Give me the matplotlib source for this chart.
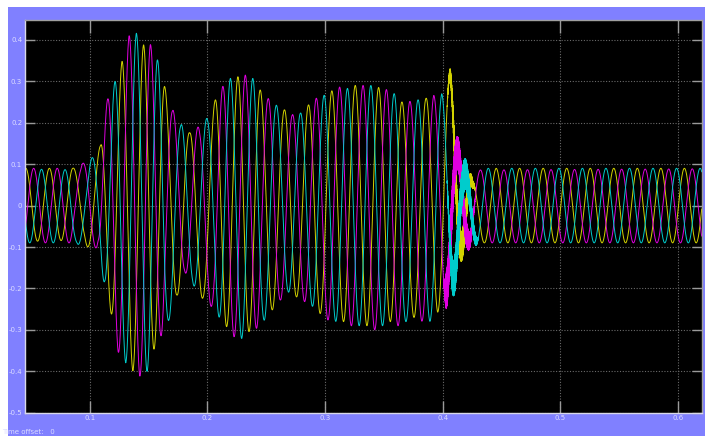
import numpy as np
import matplotlib
matplotlib.use("Agg")
import matplotlib.pyplot as plt
from matplotlib.patches import Rectangle

# ---- data ----
# times of yellow-phase peaks (defines the running phase of all three signals)
yellow_peak_t = [0.0257, 0.0457, 0.0657, 0.0857, 0.1091, 0.1274, 0.1458, 0.1637,
                 0.1849, 0.2067, 0.2259, 0.2449, 0.2655, 0.2859, 0.3057, 0.3256,
                 0.3455, 0.3653, 0.3858, 0.4062, 0.4254, 0.4453, 0.4653, 0.4853,
                 0.5053, 0.5253, 0.5453, 0.5653, 0.5853, 0.6053, 0.6253, 0.6453]

# upper (peak) envelopes
yel_up_t = [0.00, 0.0857, 0.1091, 0.1274, 0.1458, 0.1637, 0.1849, 0.2067, 0.2259, 0.2449,
            0.2655, 0.2859, 0.3057, 0.3256, 0.3455, 0.3653, 0.3858, 0.4062, 0.4254, 0.4453, 0.70]
yel_up_v = [0.09, 0.09, 0.144, 0.348, 0.388, 0.287, 0.175, 0.255, 0.311, 0.279,
            0.231, 0.243, 0.277, 0.29, 0.285, 0.25, 0.259, 0.318, 0.05, 0.09, 0.09]
mag_up_t = [0.00, 0.0923, 0.1155, 0.1334, 0.1515, 0.1702, 0.1934, 0.2126, 0.2322, 0.2514,
            0.2720, 0.2924, 0.3122, 0.3326, 0.3521, 0.3725, 0.3923, 0.4113, 0.4311, 0.70]
mag_up_v = [0.09, 0.09, 0.259, 0.41, 0.39, 0.231, 0.187, 0.287, 0.315, 0.259,
            0.219, 0.259, 0.286, 0.29, 0.28, 0.251, 0.267, 0.13, 0.086, 0.09]
cya_up_t = [0.00, 0.0986, 0.1218, 0.1396, 0.1571, 0.1770, 0.2004, 0.2194, 0.2386, 0.2579,
            0.2789, 0.2995, 0.3193, 0.3394, 0.3589, 0.3787, 0.3991, 0.4166, 0.4381, 0.70]
cya_up_v = [0.09, 0.086, 0.303, 0.416, 0.356, 0.195, 0.211, 0.307, 0.307, 0.243,
            0.223, 0.267, 0.283, 0.29, 0.27, 0.255, 0.271, 0.075, 0.09, 0.09]

# lower (trough) envelopes
yel_lo_t = [0.00, 0.0958, 0.1184, 0.1367, 0.1543, 0.1741, 0.1962, 0.2160, 0.2351, 0.2550,
            0.2755, 0.2952, 0.3155, 0.3355, 0.3555, 0.3755, 0.3955, 0.4141, 0.4353, 0.70]
yel_lo_v = [-0.09, -0.083, -0.262, -0.399, -0.349, -0.216, -0.224, -0.292, -0.305, -0.252,
            -0.22, -0.26, -0.28, -0.29, -0.28, -0.27, -0.26, -0.10, -0.09, -0.09]
mag_lo_t = [0.00, 0.0824, 0.1070, 0.1240, 0.1424, 0.1609, 0.1806, 0.2033, 0.2224, 0.2420,
            0.2619, 0.2817, 0.3022, 0.3220, 0.3420, 0.3620, 0.3820, 0.4000, 0.4209, 0.4409, 0.70]
mag_lo_v = [-0.09, -0.09, -0.103, -0.353, -0.413, -0.313, -0.16, -0.244, -0.317, -0.296,
            -0.228, -0.23, -0.276, -0.29, -0.30, -0.29, -0.28, -0.225, -0.085, -0.09, -0.09]
cya_lo_t = [0.00, 0.0890, 0.1127, 0.1306, 0.1486, 0.1673, 0.1874, 0.2095, 0.2292, 0.2486,
            0.2683, 0.2886, 0.3093, 0.3290, 0.3490, 0.3690, 0.3890, 0.4087, 0.4235, 0.4435, 0.70]
cya_lo_v = [-0.09, -0.09, -0.186, -0.38, -0.401, -0.276, -0.19, -0.268, -0.321, -0.276,
            -0.208, -0.242, -0.28, -0.29, -0.29, -0.28, -0.28, -0.18, -0.085, -0.09, -0.09]

# high-frequency ripple envelope right after the clearing at t = 0.4
hf_t = [0.000, 0.4005, 0.403, 0.408, 0.412, 0.420, 0.428, 0.4305, 0.700]
hf_mag = [0.0, 0.0, 0.045, 0.045, 0.04, 0.03, 0.0, 0.0, 0.0]
hf_cya = [0.0, 0.0, 0.0, 0.04, 0.045, 0.035, 0.012, 0.0, 0.0]
hf_yel = [0.0, 0.0, 0.0, 0.02, 0.04, 0.03, 0.0, 0.0, 0.0]

x_ticks = [0.1, 0.2, 0.3, 0.4, 0.5, 0.6]
x_labels = ["0.1", "0.2", "0.3", "0.4", "0.5", "0.6"]
y_ticks = [-0.5, -0.4, -0.3, -0.2, -0.1, 0.0, 0.1, 0.2, 0.3, 0.4]
y_labels = ["-0.5", "-0.4", "-0.3", "-0.2", "-0.1", "0", "0.1", "0.2", "0.3", "0.4"]

# ---- build traces ----
t = np.arange(0.04, 0.625, 5e-6)
theta = 2 * np.pi * np.interp(t, yellow_peak_t, np.arange(len(yellow_peak_t)))


def trace(up_t, up_v, lo_t, lo_v, shift, hf_a, hf_phase):
    up = np.interp(t, up_t, up_v)
    lo = np.interp(t, lo_t, lo_v)
    mid = 0.5 * (up + lo)
    half = 0.5 * (up - lo)
    s = mid + half * np.cos(theta - shift)
    s += np.interp(t, hf_t, hf_a) * np.sin(2 * np.pi * 5000 * t + hf_phase)
    return s


yel = trace(yel_up_t, yel_up_v, yel_lo_t, yel_lo_v, 0.0, hf_yel, 0.0)
mag = trace(mag_up_t, mag_up_v, mag_lo_t, mag_lo_v, 2 * np.pi / 3, hf_mag, 1.0)
cya = trace(cya_up_t, cya_up_v, cya_lo_t, cya_lo_v, 4 * np.pi / 3, hf_cya, 2.0)

# ---- figure ----
W, H = 705, 436
fig = plt.figure(figsize=(W / 100, H / 100), dpi=100, facecolor="white")
fig.patches.append(Rectangle((8 / W, 0), 1 - 8 / W, (H - 7) / H,
                             transform=fig.transFigure, facecolor="#8080ff",
                             edgecolor="none", zorder=-10))

ax = fig.add_axes([25 / W, (H - 412.7) / H, (701.7 - 25) / W, (412.7 - 20) / H])
ax.set_facecolor("black")

lw = 0.7
ax.plot(t, yel, color="#d2d200", lw=lw)
ax.plot(t, mag, color="#e000e0", lw=lw)
ax.plot(t, cya, color="#00cccc", lw=lw)

ax.set_xlim(0.045, 0.62)
ax.set_ylim(-0.5, 0.448)
ax.set_xticks(x_ticks)
ax.set_xticklabels(x_labels)
ax.set_yticks(y_ticks)
ax.set_yticklabels(y_labels)

ax.grid(True, color="#6a6a6a", linestyle=(0, (1, 1.5)), linewidth=0.8)
ax.tick_params(axis="both", direction="in", length=7, width=1.0, color="#9a9a9a",
               labelsize=5, labelcolor="#dcdcff", pad=2,
               top=True, right=True)
ax.tick_params(axis="x", length=9)
for side in ["left", "bottom"]:
    ax.spines[side].set_color("#d8d8e8")
    ax.spines[side].set_linewidth(1.0)
for side in ["top", "right"]:
    ax.spines[side].set_color("#a0a0a0")
    ax.spines[side].set_linewidth(1.0)

fig.text(2 / W, 1 / H, "Time offset:   0", fontsize=5, color="#dcdcff",
         ha="left", va="bottom")

fig.savefig("out.png", dpi=100, facecolor=fig.get_facecolor())
